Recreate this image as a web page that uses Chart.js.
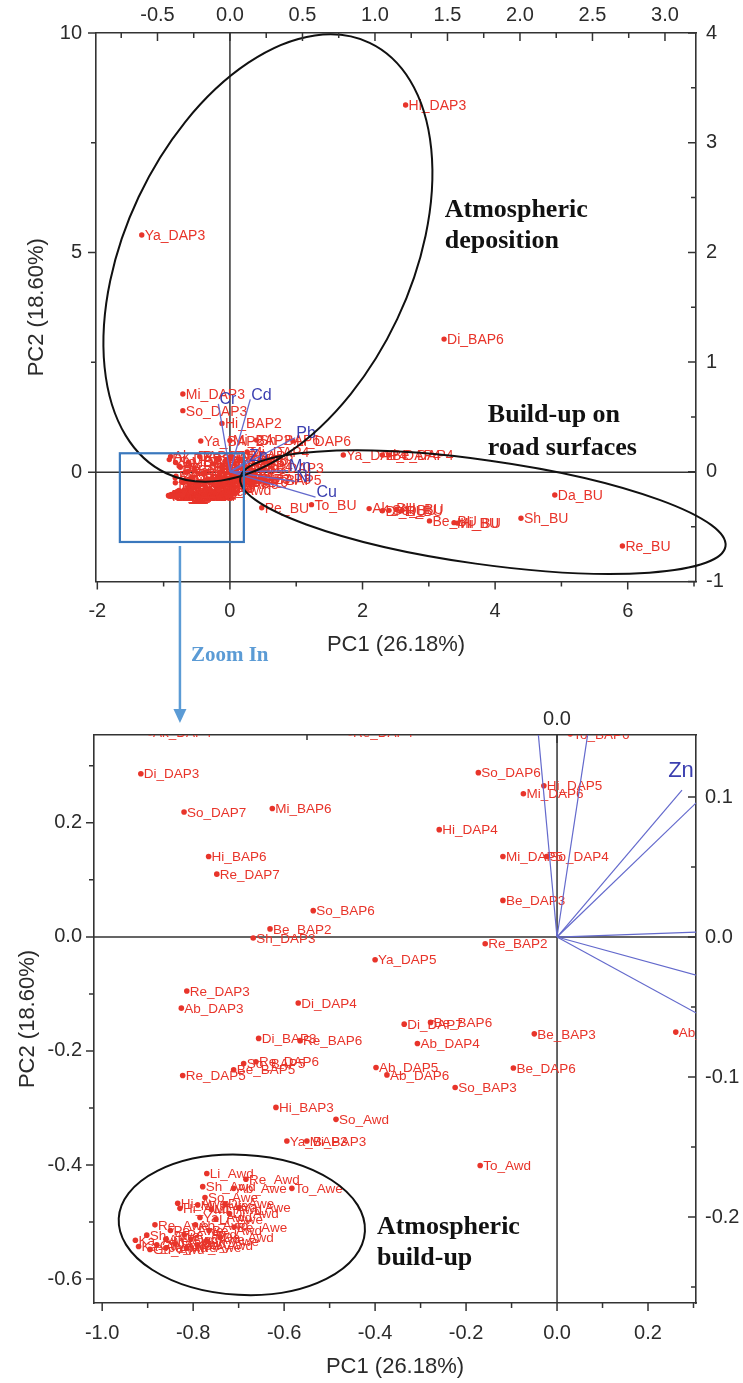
<!DOCTYPE html>
<html>
<head>
<meta charset="utf-8">
<title>PCA biplot - PC1 vs PC2</title>
<script src="https://cdn.jsdelivr.net/npm/chart.js@4.4.1/dist/chart.umd.min.js"></script>
<style>
  html, body { margin: 0; padding: 0; background: #fff; }
  #wrap { position: relative; width: 743px; height: 1383px; }
  canvas { position: absolute; left: 0; top: 0; }
</style>
</head>
<body>
<div id="wrap">
  <canvas id="mainChart" width="743" height="1383"></canvas>
  <canvas id="zoomChart" width="743" height="1383"></canvas>
</div>
<script>
// ---- sample scores ----
// deposition samples (DAP / BAP)
const depoNames = ['Hi_DAP3', 'Ya_DAP3', 'Di_BAP6', 'Mi_DAP3', 'So_DAP3', 'Hi_BAP2', 'Ya_BAP2', 'Mi_BAP2',
  'Sh_BAP6', 'Li_DAP6', 'Mi_DAP4', 'To_DAP3', 'Hi_BAP5', 'Ya_DAP4', 'Li_DAP4', 'Be_DAP4',
  'Ak_DAP4', 'Re_DAP4', 'To_BAP6', 'Di_DAP3', 'So_DAP7', 'Mi_BAP6', 'Hi_BAP6', 'Re_DAP7',
  'So_BAP6', 'Be_BAP2', 'Sh_DAP3', 'So_DAP6', 'Hi_DAP5', 'Mi_DAP6', 'Hi_DAP4', 'Mi_DAP5',
  'So_DAP4', 'Be_DAP3', 'Re_BAP2', 'Ya_DAP5', 'Re_DAP3', 'Ab_DAP3', 'Di_DAP4', 'Di_BAP3',
  'Re_BAP6', 'Be_BAP5', 'So_BAP5', 'Re_DAP6', 'Re_DAP5', 'Di_DAP7', 'Be_BAP6', 'Ab_DAP4',
  'Be_BAP3', 'Ab_BAP3', 'Ab_DAP5', 'Ab_DAP6', 'Be_DAP6', 'So_BAP3', 'Hi_BAP3', 'Ya_BAP3', 'Mi_BAP3'];
const depoPC1 = [2.65, -1.33, 3.23, -0.71, -0.71, -0.12, -0.44, 0.00,
  0.40, 0.95, 0.26, 0.48, 0.48, 1.71, 2.30, 2.40,
  -0.895, -0.455, 0.029, -0.915, -0.820, -0.626, -0.766, -0.748,
  -0.536, -0.631, -0.668, -0.173, -0.029, -0.074, -0.259, -0.119,
  -0.023, -0.119, -0.158, -0.400, -0.814, -0.826, -0.569, -0.656,
  -0.565, -0.711, -0.689, -0.662, -0.823, -0.336, -0.278, -0.307,
  -0.050, 0.261, -0.398, -0.374, -0.096, -0.224, -0.618, -0.594, -0.550];
const depoPC2 = [8.36, 5.40, 3.03, 1.78, 1.40, 1.11, 0.71, 0.72,
  0.73, 0.71, 0.46, 0.09, -0.18, 0.39, 0.39, 0.39,
  0.358, 0.358, 0.356, 0.286, 0.219, 0.225, 0.141, 0.110,
  0.046, 0.014, -0.002, 0.288, 0.265, 0.251, 0.188, 0.141,
  0.141, 0.064, -0.012, -0.040, -0.095, -0.125, -0.116, -0.178,
  -0.182, -0.233, -0.222, -0.219, -0.243, -0.153, -0.150, -0.187,
  -0.170, -0.167, -0.229, -0.242, -0.230, -0.264, -0.299, -0.358, -0.358];

// build-up on road surfaces (BU)
const roadNames = ['Pe_BU', 'To_BU', 'Ak_BU', 'Di_BU', 'So_BU', 'Ab_BU', 'Li_BU', 'Be_BU', 'Mi_BU',
  'Hi_BU', 'Sh_BU', 'Da_BU', 'Re_BU'];
const roadPC1 = [0.48, 1.23, 2.10, 2.30, 2.40, 2.51, 2.59, 3.01, 3.38, 3.43, 4.39, 4.90, 5.92];
const roadPC2 = [-0.81, -0.74, -0.83, -0.88, -0.87, -0.85, -0.88, -1.11, -1.15, -1.16, -1.05, -0.52, -1.68];

// atmospheric build-up (Awd / Awe)
const airNames = ['So_Awd', 'To_Awd', 'Li_Awd', 'Re_Awd', 'Sh_Awd', 'Ab_Awe', 'To_Awe', 'So_Awe',
  'Hi_Awe', 'Hi_Awd', 'Mi_Awe', 'Mi_Awd', 'Di_Awe', 'Di_Awd', 'Ya_Awe', 'Ya_Awd',
  'Li_Awe', 'Ab_Awd', 'Be_Awe', 'Be_Awd', 'Re_Awe', 'Pe_Awe', 'Pe_Awd', 'Da_Awe',
  'Da_Awd', 'Ak_Awe', 'Ak_Awd', 'Sh_Awe', 'Ka_Awe', 'Ka_Awd', 'Gu_Awe', 'Gu_Awd',
  'Ja_Awe', 'Ja_Awd', 'Ma_Awe', 'Ma_Awd'];
const airPC1 = [-0.486, -0.169, -0.770, -0.684, -0.779, -0.711, -0.583, -0.774,
  -0.834, -0.829, -0.790, -0.760, -0.730, -0.720, -0.700, -0.785,
  -0.750, -0.795, -0.710, -0.765, -0.884, -0.850, -0.820, -0.805,
  -0.741, -0.770, -0.860, -0.902, -0.927, -0.920, -0.880, -0.895,
  -0.860, -0.840, -0.815, -0.790];
const airPC2 = [-0.320, -0.401, -0.415, -0.425, -0.438, -0.441, -0.441, -0.457,
  -0.467, -0.476, -0.470, -0.478, -0.468, -0.485, -0.475, -0.492,
  -0.495, -0.505, -0.509, -0.515, -0.505, -0.515, -0.522, -0.530,
  -0.527, -0.533, -0.530, -0.523, -0.532, -0.543, -0.540, -0.548,
  -0.545, -0.538, -0.545, -0.540];

// metal loadings (top / right axes)
const metals = ['Cr', 'Cd', 'Pb', 'Zn', 'Mn', 'Ni', 'Cu'];
const loadPC1 = [-0.08, 0.14, 0.45, 0.125, 0.40, 0.45, 0.59];
const loadPC2 = [0.62, 0.66, 0.31, 0.105, 0.01, -0.088, -0.23];

// tick values
const mainTicksPC1 = [-2, 0, 2, 4, 6];
const mainMinorPC1 = [-1, 1, 3, 5, 7];
const mainTicksPC2 = [0, 5, 10];
const mainMinorPC2 = [2.5, 7.5];
const mainTicksLoad1 = [-0.5, 0, 0.5, 1, 1.5, 2, 2.5, 3];
const mainMinorLoad1 = [-0.75, -0.25, 0.25, 0.75, 1.25, 1.75, 2.25, 2.75];
const mainTicksLoad2 = [-1, 0, 1, 2, 3, 4];
const mainMinorLoad2 = [-0.5, 0.5, 1.5, 2.5, 3.5];
const zoomTicksPC1 = [-1, -0.8, -0.6, -0.4, -0.2, 0, 0.2];
const zoomMinorPC1 = [-0.9, -0.7, -0.5, -0.3, -0.1, 0.1, 0.3];
const zoomTicksPC2 = [-0.6, -0.4, -0.2, 0, 0.2];
const zoomMinorPC2 = [-0.5, -0.3, -0.1, 0.1, 0.3];
const zoomTicksLoad1 = [0];
const zoomMinorLoad1 = [-0.25];
const zoomTicksLoad2 = [-0.2, -0.1, 0, 0.1];
const zoomMinorLoad2 = [-0.25, -0.15, -0.05, 0.05];

const RED = '#e8342a';
const AXIS = '#333333';
const LOAD_LINE = '#6369cc';
const LOAD_TEXT = '#3b3fb0';
const SANS = "Arial, 'Liberation Sans', sans-serif";
const SERIF = "'Times New Roman', 'Liberation Serif', serif";

const allNames = depoNames.concat(roadNames, airNames);
const allPC1 = depoPC1.concat(roadPC1, airPC1);
const allPC2 = depoPC2.concat(roadPC2, airPC2);

function scoreDataset(r) {
  return {
    type: 'scatter',
    data: allNames.map((n, i) => ({ x: allPC1[i], y: allPC2[i], name: n })),
    xAxisID: 'x', yAxisID: 'y',
    pointRadius: r, pointBackgroundColor: RED, pointBorderWidth: 0, showLine: false
  };
}

function loadingDatasets(w) {
  return metals.map((m, i) => ({
    type: 'line', label: m,
    data: [{ x: 0, y: 0 }, { x: loadPC1[i], y: loadPC2[i] }],
    xAxisID: 'x2', yAxisID: 'y2',
    borderColor: LOAD_LINE, borderWidth: w, pointRadius: 0, fill: false
  }));
}

function axis(o) {
  return {
    type: 'linear', position: o.pos, min: o.min, max: o.max,
    grid: { display: false, drawTicks: false },
    border: { display: true, color: AXIS, width: 1.6 },
    afterBuildTicks: s => { s.ticks = o.majors.map(v => ({ value: v })); },
    afterFit: s => { if (s.isHorizontal()) s.height = o.size; else s.width = o.size; },
    ticks: {
      autoSkip: false, maxRotation: 0, minRotation: 0, padding: o.pad, color: '#2b2b2b',
      font: { family: SANS, size: 20 },
      callback: v => Number(v).toFixed(o.dec)
    },
    title: o.title
      ? { display: true, text: o.title, color: '#2b2b2b', font: { family: SANS, size: 22 }, padding: o.titlePad }
      : { display: false }
  };
}

// drawing helpers: zero lines, sample labels, loading labels, ellipses, notes, tick marks
function makeDecor(cfg) {
  const clipArea = (ctx, a) => {
    ctx.beginPath();
    ctx.rect(a.left, a.top, a.right - a.left, a.bottom - a.top);
    ctx.clip();
  };
  return {
    id: 'decor',
    beforeDatasetsDraw(chart) {
      const { ctx, chartArea: a, scales } = chart;
      ctx.save();
      clipArea(ctx, a);
      const x0 = scales.x.getPixelForValue(0), y0 = scales.y.getPixelForValue(0);
      ctx.strokeStyle = AXIS; ctx.lineWidth = 1.5;
      ctx.beginPath();
      ctx.moveTo(x0, a.top); ctx.lineTo(x0, a.bottom);
      ctx.moveTo(a.left, y0); ctx.lineTo(a.right, y0);
      ctx.stroke();
      const ds = chart.data.datasets[cfg.scoreIndex];
      const meta = chart.getDatasetMeta(cfg.scoreIndex);
      ctx.font = cfg.labelFont; ctx.fillStyle = RED;
      ctx.textAlign = 'left'; ctx.textBaseline = 'middle';
      meta.data.forEach((el, i) => ctx.fillText(ds.data[i].name, el.x + 3, el.y + 1));
      ctx.restore();
    },
    afterDatasetsDraw(chart) {
      const { ctx, chartArea: a, scales } = chart;
      ctx.save();
      clipArea(ctx, a);
      ctx.font = cfg.loadFont; ctx.fillStyle = LOAD_TEXT; ctx.textBaseline = 'middle';
      metals.forEach((m, i) => {
        const el = chart.getDatasetMeta(i).data[1];
        if (cfg.loadAbove) { ctx.textAlign = 'center'; ctx.fillText(m, el.x - 1, el.y - 19); }
        else { ctx.textAlign = 'left'; ctx.fillText(m, el.x + 1, el.y - 4); }
      });
      ctx.restore();

      ctx.save();
      const k = scales.x.getPixelForValue(1) - scales.x.getPixelForValue(0);
      ctx.strokeStyle = '#111'; ctx.lineWidth = 2;
      cfg.ellipses.forEach(e => {
        ctx.beginPath();
        ctx.ellipse(scales.x.getPixelForValue(e.cx), scales.y.getPixelForValue(e.cy),
          e.rx * k, e.ry * k, e.rot * Math.PI / 180, 0, Math.PI * 2);
        ctx.stroke();
      });
      if (cfg.box) {
        const b = cfg.box;
        const bx1 = scales.x.getPixelForValue(b.x1), bx2 = scales.x.getPixelForValue(b.x2);
        const by1 = scales.y.getPixelForValue(b.y1), by2 = scales.y.getPixelForValue(b.y2);
        ctx.strokeStyle = '#3a78bd'; ctx.lineWidth = 2.2;
        ctx.strokeRect(bx1, by1, bx2 - bx1, by2 - by1);
      }
      ctx.fillStyle = '#111'; ctx.textAlign = 'left'; ctx.textBaseline = 'middle';
      ctx.font = `bold 26px ${SERIF}`;
      cfg.notes.forEach(n => {
        const nx = scales.x.getPixelForValue(n.x), ny = scales.y.getPixelForValue(n.y);
        n.lines.forEach((t, j) => ctx.fillText(t, nx, ny + j * n.gap));
      });
      ctx.restore();
    },
    afterDraw(chart) {
      const { ctx, chartArea: a } = chart;
      ctx.save();
      ctx.strokeStyle = AXIS; ctx.lineWidth = 1.5;
      ctx.beginPath();
      Object.keys(cfg.tickMarks).forEach(id => {
        const s = chart.scales[id], t = cfg.tickMarks[id];
        const dir = t.inward ? -1 : 1;
        const mark = (v, len) => {
          if (v < s.min - 1e-9 || v > s.max + 1e-9) return;
          const p = s.getPixelForValue(v);
          if (s.position === 'bottom') { ctx.moveTo(p, a.bottom); ctx.lineTo(p, a.bottom + dir * len); }
          else if (s.position === 'top') { ctx.moveTo(p, a.top); ctx.lineTo(p, a.top - dir * len); }
          else if (s.position === 'left') { ctx.moveTo(a.left, p); ctx.lineTo(a.left - dir * len, p); }
          else { ctx.moveTo(a.right, p); ctx.lineTo(a.right + dir * len, p); }
        };
        t.major.forEach(v => mark(v, 8));
        t.minor.forEach(v => mark(v, 5));
      });
      ctx.stroke();

      if (cfg.arrow) {
        const ar = cfg.arrow;
        const x = chart.scales.x.getPixelForValue(ar.x);
        const y1 = chart.scales.y.getPixelForValue(cfg.box.y2) + 4;
        ctx.strokeStyle = ar.color; ctx.fillStyle = ar.color; ctx.lineWidth = 2.5;
        ctx.beginPath(); ctx.moveTo(x, y1); ctx.lineTo(x, ar.tipY - 12); ctx.stroke();
        ctx.beginPath();
        ctx.moveTo(x - 6.5, ar.tipY - 14); ctx.lineTo(x + 6.5, ar.tipY - 14); ctx.lineTo(x, ar.tipY);
        ctx.closePath(); ctx.fill();
        ctx.font = `bold 21px ${SERIF}`; ctx.textAlign = 'left'; ctx.textBaseline = 'middle';
        ctx.fillText(ar.text, x + 11, ar.textY);
      }
      ctx.restore();
    }
  };
}

const baseOptions = (padding) => ({
  responsive: false,
  animation: false,
  devicePixelRatio: 1,
  layout: { padding, autoPadding: false },
  plugins: { legend: { display: false }, tooltip: { enabled: false } }
});

// ---- full biplot ----
new Chart(document.getElementById('mainChart'), {
  type: 'scatter',
  data: { datasets: [...loadingDatasets(1.3), scoreDataset(2.7)] },
  options: Object.assign(baseOptions({ top: 0, bottom: 693, left: 0, right: 0 }), {
    scales: {
      x: axis({ pos: 'bottom', min: -2.02, max: 7.03, majors: mainTicksPC1, dec: 0, size: 108.5, pad: 18,
        title: 'PC1 (26.18%)', titlePad: { top: 0, bottom: 32 } }),
      y: axis({ pos: 'left', min: -2.49, max: 10, majors: mainTicksPC2, dec: 0, size: 96, pad: 14,
        title: 'PC2 (18.60%)', titlePad: { top: 24, bottom: 0 } }),
      x2: axis({ pos: 'top', min: -0.924, max: 3.214, majors: mainTicksLoad1, dec: 1, size: 33, pad: 6 }),
      y2: axis({ pos: 'right', min: -1, max: 4, majors: mainTicksLoad2, dec: 0, size: 47, pad: 10 })
    }
  }),
  plugins: [makeDecor({
    scoreIndex: metals.length,
    labelFont: `14px ${SANS}`,
    loadFont: `16px ${SANS}`,
    loadAbove: false,
    ellipses: [
      { cx: 0.573, cy: 4.875, rx: 3.59, ry: 2.157, rot: -64.7 },
      { cx: 3.816, cy: -0.911, rx: 3.695, ry: 0.784, rot: 8 }
    ],
    box: { x1: -1.66, x2: 0.21, y1: 0.43, y2: -1.59 },
    notes: [
      { x: 3.24, y: 5.97, lines: ['Atmospheric', 'deposition'], gap: 31 },
      { x: 3.89, y: 1.30, lines: ['Build-up on', 'road surfaces'], gap: 33 }
    ],
    arrow: { x: -0.754, tipY: 723, textY: 656, text: 'Zoom In', color: '#5b9bd5' },
    tickMarks: {
      x: { major: mainTicksPC1, minor: mainMinorPC1, inward: false },
      y: { major: mainTicksPC2, minor: mainMinorPC2, inward: false },
      x2: { major: mainTicksLoad1, minor: mainMinorLoad1, inward: true },
      y2: { major: mainTicksLoad2, minor: mainMinorLoad2, inward: true }
    }
  })]
});

// ---- zoomed-in region ----
new Chart(document.getElementById('zoomChart'), {
  type: 'scatter',
  data: { datasets: [...loadingDatasets(1.2), scoreDataset(2.8)] },
  options: Object.assign(baseOptions({ top: 670, bottom: 0, left: 0, right: 0 }), {
    scales: {
      x: axis({ pos: 'bottom', min: -1.018, max: 0.3055, majors: zoomTicksPC1, dec: 1, size: 80, pad: 18,
        title: 'PC1 (26.18%)', titlePad: { top: 0, bottom: 3 } }),
      y: axis({ pos: 'left', min: -0.642, max: 0.354, majors: zoomTicksPC2, dec: 1, size: 94, pad: 12,
        title: 'PC2 (18.60%)', titlePad: { top: 15, bottom: 0 } }),
      x2: axis({ pos: 'top', min: -0.463, max: 0.139, majors: zoomTicksLoad1, dec: 1, size: 65, pad: 4 }),
      y2: axis({ pos: 'right', min: -0.2614, max: 0.1443, majors: zoomTicksLoad2, dec: 1, size: 47, pad: 9 })
    }
  }),
  plugins: [makeDecor({
    scoreIndex: metals.length,
    labelFont: `13.5px ${SANS}`,
    loadFont: `22px ${SANS}`,
    loadAbove: true,
    ellipses: [
      { cx: -0.693, cy: -0.505, rx: 0.271, ry: 0.154, rot: 3 }
    ],
    box: null,
    notes: [
      { x: -0.396, y: -0.509, lines: ['Atmospheric', 'build-up'], gap: 31 }
    ],
    arrow: null,
    tickMarks: {
      x: { major: zoomTicksPC1, minor: zoomMinorPC1, inward: false },
      y: { major: zoomTicksPC2, minor: zoomMinorPC2, inward: false },
      x2: { major: zoomTicksLoad1, minor: zoomMinorLoad1, inward: true },
      y2: { major: zoomTicksLoad2, minor: zoomMinorLoad2, inward: true }
    }
  })]
});
</script>
</body>
</html>
